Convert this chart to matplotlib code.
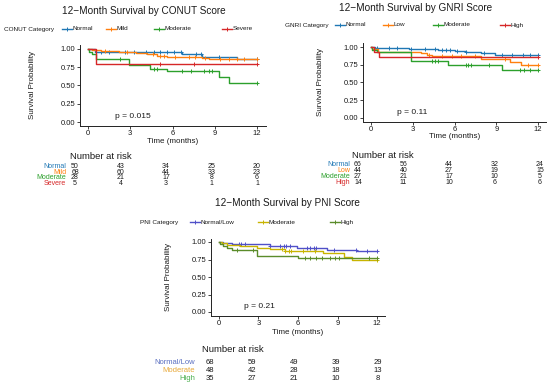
import numpy as np
import matplotlib
matplotlib.use('Agg')
import matplotlib.pyplot as plt
from matplotlib.lines import Line2D
from matplotlib.transforms import blended_transform_factory

plt.rcParams['font.family'] = ['Liberation Sans', 'DejaVu Sans']

W, H = 550, 386
fig = plt.figure(figsize=(W / 100, H / 100), dpi=100)


def fx(px):
    return px / W


def fy(py):
    return 1 - py / H


time_ticks = [0, 3, 6, 9, 12]
surv_ticks = [0.0, 0.25, 0.5, 0.75, 1.0]

# ---------------- CONUT ----------------
conut_groups = ['Normal', 'Mild', 'Moderate', 'Severe']
conut_colors = ['#1F77B4', '#FF7F0E', '#2CA02C', '#D62728']
conut_times = {
    'Normal': [0, 0.5, 6.7, 8.1, 10.6, 12],
    'Mild': [0, 0.3, 0.9, 2.2, 3.4, 4.2, 4.9, 5.6, 6.8, 8.1, 8.6, 12],
    'Moderate': [0, 0.1, 0.3, 0.6, 2.9, 4.4, 5.6, 9.3, 10.0, 12],
    'Severe': [0, 0.6, 12],
}
conut_surv = {
    'Normal': [1, 0.963, 0.93, 0.895, 0.863, 0.863],
    'Mild': [1, 0.985, 0.97, 0.955, 0.94, 0.925, 0.91, 0.895, 0.885, 0.87, 0.858, 0.858],
    'Moderate': [1, 0.964, 0.929, 0.857, 0.78, 0.73, 0.70, 0.62, 0.53, 0.53],
    'Severe': [1, 0.8, 0.8],
}
conut_censor = {
    'Normal': [0.9, 1.5, 2.6, 3.3, 4.1, 4.7, 5.1, 5.6, 6.1, 6.6, 7.7, 8.0, 9.3, 12],
    'Mild': [1.2, 2.8, 4.6, 5.1, 5.4, 6.2, 7.2, 7.6, 8.3, 9.4, 10.0, 10.6, 11.1, 12],
    'Moderate': [2.3, 4.7, 4.9, 6.7, 7.3, 8.2, 8.6, 8.8, 12],
    'Severe': [5.1, 7.5, 12],
}
conut_risk = {
    'Normal': [50, 43, 34, 25, 20],
    'Mild': [68, 60, 44, 33, 23],
    'Moderate': [28, 21, 17, 8, 6],
    'Severe': [5, 4, 3, 1, 1],
}

# ---------------- GNRI ----------------
gnri_groups = ['Normal', 'Low', 'Moderate', 'High']
gnri_colors = ['#1F77B4', '#FF7F0E', '#2CA02C', '#D62728']
gnri_times = {
    'Normal': [0, 0.3, 2.7, 4.8, 6.0, 6.8, 7.9, 8.9, 12],
    'Low': [0, 0.1, 0.5, 3.6, 4.0, 4.4, 7.9, 10.0, 10.8, 12],
    'Moderate': [0, 0.1, 0.4, 2.9, 5.5, 9.4, 12],
    'High': [0, 0.2, 0.6, 12],
}
gnri_surv = {
    'Normal': [1, 0.985, 0.97, 0.955, 0.94, 0.925, 0.91, 0.885, 0.885],
    'Low': [1, 0.977, 0.93, 0.91, 0.89, 0.87, 0.83, 0.79, 0.745, 0.745],
    'Moderate': [1, 0.963, 0.926, 0.81, 0.745, 0.68, 0.68],
    'High': [1, 0.929, 0.857, 0.857],
}
gnri_censor = {
    'Normal': [0.4, 1.3, 1.9, 2.9, 3.9, 4.6, 5.1, 5.4, 5.7, 6.2, 6.8, 8.1, 9.4, 10.1, 10.9, 11.4, 12],
    'Low': [4.2, 5.1, 5.8, 6.5, 7.5, 9.6, 11.3, 12],
    'Moderate': [4.4, 4.6, 4.8, 6.8, 7.0, 7.2, 8.5, 10.7, 11.0, 11.4, 12],
    'High': [12],
}
gnri_risk = {
    'Normal': [66, 56, 44, 32, 24],
    'Low': [44, 40, 27, 19, 15],
    'Moderate': [27, 21, 17, 10, 5],
    'High': [14, 11, 10, 6, 6],
}

# ---------------- PNI ----------------
pni_groups = ['Normal/Low', 'Moderate', 'High']
pni_colors = ['#5050C8', '#C8B400', '#5B8C2A']
pni_label_colors = ['#5A6EC0', '#E8A838', '#4CAF50']
pni_times = {
    'Normal/Low': [0, 0.3, 1.0, 3.9, 5.9, 8.2, 10.5, 12],
    'Moderate': [0, 0.2, 0.6, 1.6, 2.9, 3.9, 5.0, 7.9, 9.5, 10.1, 12],
    'High': [0, 0.1, 0.3, 0.6, 1.0, 2.9, 6.0, 12],
}
pni_surv = {
    'Normal/Low': [1, 0.985, 0.967, 0.95, 0.92, 0.89, 0.866, 0.866],
    'Moderate': [1, 0.979, 0.958, 0.94, 0.92, 0.895, 0.875, 0.84, 0.79, 0.745, 0.745],
    'High': [1, 0.971, 0.943, 0.914, 0.886, 0.80, 0.765, 0.765],
}
pni_censor = {
    'Normal/Low': [1.5, 1.7, 2.0, 3.9, 4.6, 4.9, 5.1, 5.4, 6.7, 6.9, 7.2, 7.4, 8.7, 10.4, 11.2, 12],
    'Moderate': [4.8, 5.0, 5.3, 5.5, 6.4, 7.3, 12],
    'High': [1.4, 2.6, 6.5, 6.9, 7.4, 7.8, 8.4, 8.8, 9.1, 11.4, 12],
}
pni_risk = {
    'Normal/Low': [68, 59, 49, 39, 29],
    'Moderate': [48, 42, 28, 18, 13],
    'High': [35, 27, 21, 10, 8],
}

panels = [
    dict(title='12\u2212Month Survival by CONUT Score', legend_title='CONUT Category',
         groups=conut_groups, colors=conut_colors, label_colors=conut_colors,
         times=conut_times, surv=conut_surv, censor=conut_censor, risk=conut_risk,
         pval='p = 0.015',
         ax_box=(79.5, 45.3, 265.5, 125.7), title_xy=(144, 11),
         leg_title_x=4, leg_y=29, leg_keys=[62, 106, 154, 222],
         ylab_xy=(32, 85), xlab_xy=(172.5, 141.7),
         nar_xy=(70, 156.5), rows_y=[166, 172, 178, 184], lab_right=66,
         cols=(75, 257), risk_fs=5.0),
    dict(title='12\u2212Month Survival by GNRI Score', legend_title='GNRI Category',
         groups=gnri_groups, colors=gnri_colors, label_colors=gnri_colors,
         times=gnri_times, surv=gnri_surv, censor=gnri_censor, risk=gnri_risk,
         pval='p = 0.11',
         ax_box=(362.6, 43.5, 546.4, 121.5), title_xy=(416, 8),
         leg_title_x=285, leg_y=25, leg_keys=[335, 383, 433, 500],
         ylab_xy=(320, 82), xlab_xy=(454.5, 137),
         nar_xy=(352, 155), rows_y=[165, 171, 177, 183], lab_right=350,
         cols=(358, 540), risk_fs=5.0),
    dict(title='12\u2212Month Survival by PNI Score', legend_title='PNI Category',
         groups=pni_groups, colors=pni_colors, label_colors=pni_label_colors,
         times=pni_times, surv=pni_surv, censor=pni_censor, risk=pni_risk,
         pval='p = 0.21',
         ax_box=(211, 238.5, 385, 315.5), title_xy=(287, 203),
         leg_title_x=140, leg_y=222, leg_keys=[190, 258, 330],
         ylab_xy=(168, 277), xlab_xy=(298, 333),
         nar_xy=(202, 349), rows_y=[362.7, 371, 379], lab_right=195,
         cols=(210, 378), risk_fs=5.5),
]

TXT = '#1A1A1A'

for p in panels:
    L, T, R, B = p['ax_box']
    ax = fig.add_axes([fx(L), fy(B), fx(R) - fx(L), fy(T) - fy(B)])
    for g, c in zip(p['groups'], p['colors']):
        t = np.array(p['times'][g], dtype=float)
        s = np.array(p['surv'][g], dtype=float)
        ax.step(t, s, where='post', color=c, lw=1.0)
        ct = np.array(p['censor'][g], dtype=float)
        idx = np.searchsorted(t, ct, side='right') - 1
        ax.plot(ct, s[idx], linestyle='none', marker='+', color=c, ms=3.5, mew=0.7)
    ax.set_xlim(-0.6, 12.6)
    ax.set_ylim(-0.05, 1.05)
    ax.set_xticks(time_ticks)
    ax.set_xticklabels([str(v) for v in time_ticks])
    ax.set_yticks(surv_ticks)
    ax.set_yticklabels(['%.2f' % v for v in surv_ticks])
    for sp in ['top', 'right']:
        ax.spines[sp].set_visible(False)
    for sp in ['left', 'bottom']:
        ax.spines[sp].set_linewidth(0.7)
        ax.spines[sp].set_color('#222222')
    ax.tick_params(axis='both', length=2, width=0.6, pad=1.2, labelsize=5.5,
                   colors='#222222', labelcolor=TXT)
    ax.set_facecolor('none')
    ax.text(1.9, 0.08, p['pval'], fontsize=6, ha='left', va='center', color=TXT)

    # title / axis labels
    tx, ty = p['title_xy']
    fig.text(fx(tx), fy(ty), p['title'], ha='center', va='center', fontsize=7.2, color=TXT)
    fig.text(fx(p['ylab_xy'][0]), fy(p['ylab_xy'][1]), 'Survival Probability', rotation=90,
             ha='center', va='center', fontsize=5.8, color=TXT)
    fig.text(fx(p['xlab_xy'][0]), fy(p['xlab_xy'][1]), 'Time (months)',
             ha='center', va='center', fontsize=5.8, color=TXT)

    # legend
    ly = p['leg_y']
    fig.text(fx(p['leg_title_x']), fy(ly), p['legend_title'], ha='left', va='center',
             fontsize=4.6, color=TXT)
    for g, c, kx in zip(p['groups'], p['colors'], p['leg_keys']):
        fig.add_artist(Line2D([fx(kx), fx(kx + 10)], [fy(ly), fy(ly)], color=c, lw=1.0,
                              transform=fig.transFigure))
        fig.add_artist(Line2D([fx(kx + 5)], [fy(ly)], color=c, marker='+', ms=3.5, mew=0.7,
                              linestyle='none', transform=fig.transFigure))
        fig.text(fx(kx + 10.5), fy(ly), g, ha='left', va='center', fontsize=4.6, color=TXT)

    # risk table
    fig.text(fx(p['nar_xy'][0]), fy(p['nar_xy'][1]), 'Number at risk', ha='left',
             va='center', fontsize=6.8, color=TXT)
    rows_y = p['rows_y']
    c0, c1 = p['cols']
    rax = fig.add_axes([fx(c0), fy(rows_y[-1]), fx(c1) - fx(c0), fy(rows_y[0]) - fy(rows_y[-1])])
    rax.set_xlim(0, 12)
    rax.set_ylim(len(p['groups']) - 1, 0)
    rax.axis('off')
    trans = blended_transform_factory(fig.transFigure, rax.transData)
    for i, (g, lc) in enumerate(zip(p['groups'], p['label_colors'])):
        rax.text(fx(p['lab_right']), i, g, transform=trans, ha='right', va='center',
                 fontsize=p['risk_fs'], color=lc)
        for tt, n in zip(time_ticks, p['risk'][g]):
            rax.text(tt, i, str(n), ha='center', va='center', fontsize=p['risk_fs'], color=TXT)

fig.savefig('out.png', dpi=100)
